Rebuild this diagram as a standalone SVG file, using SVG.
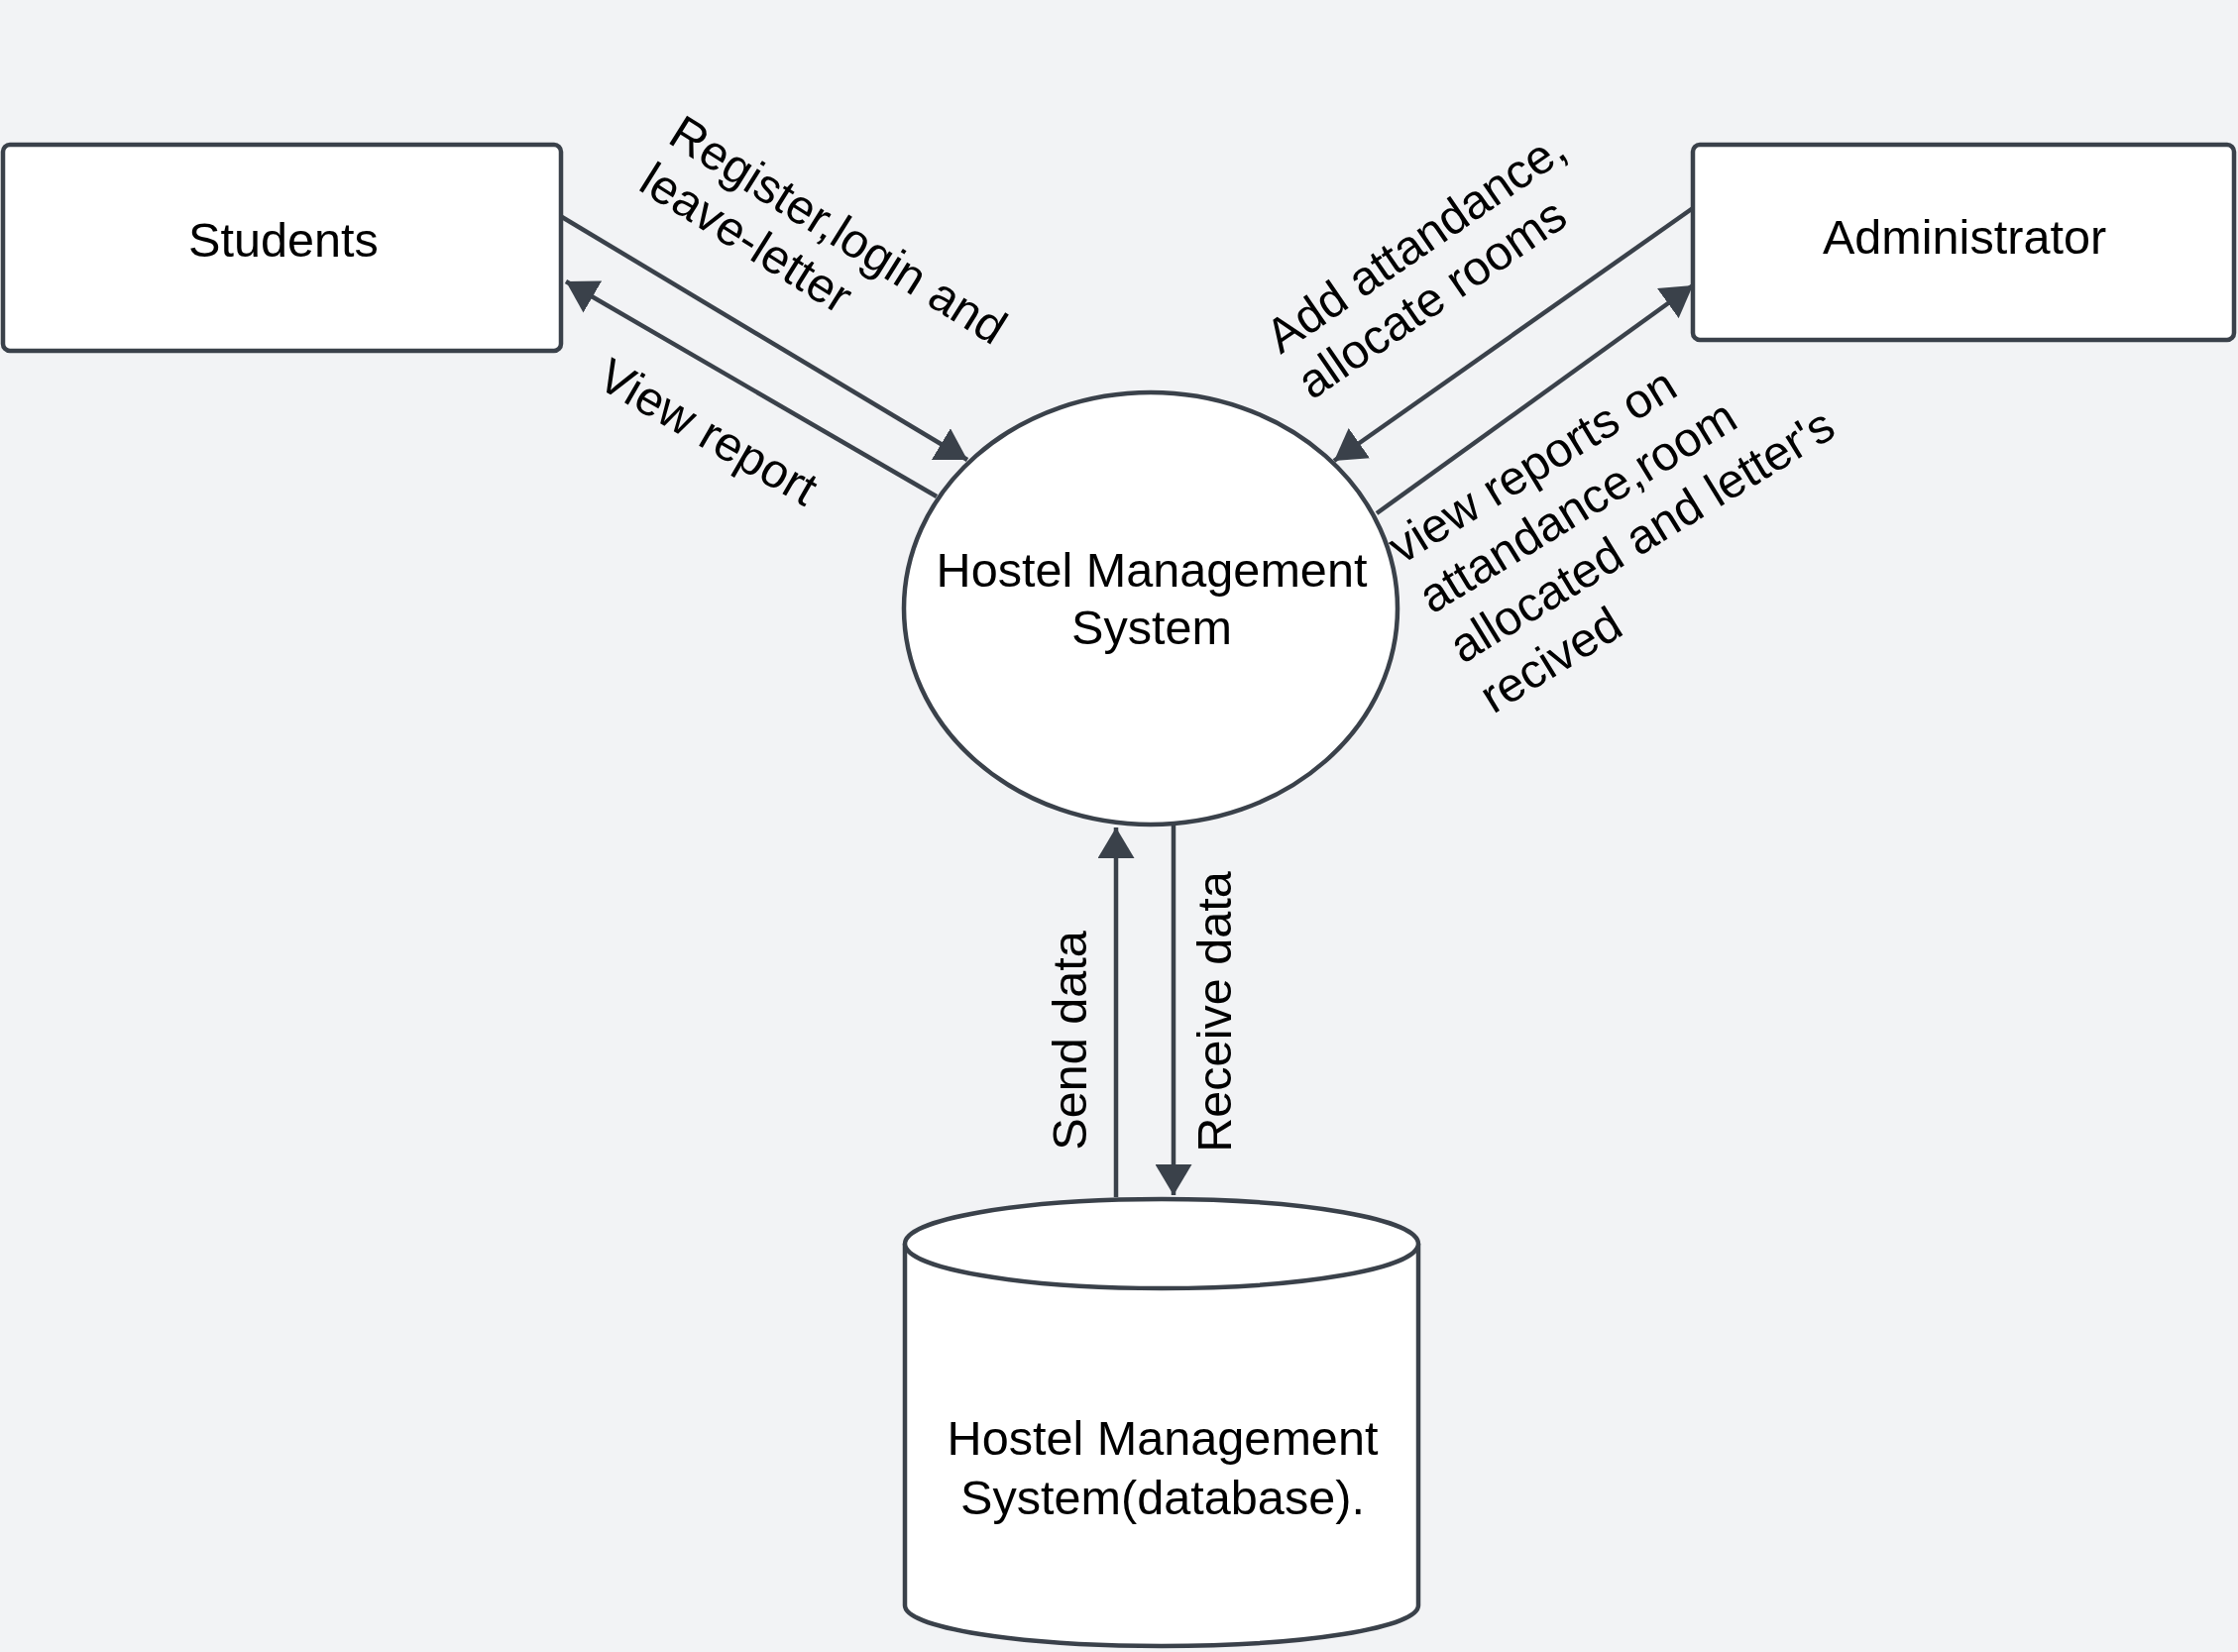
<svg xmlns="http://www.w3.org/2000/svg" width="2258" height="1667" viewBox="0 0 2258 1667">
<defs>
<style>
.shape{fill:#ffffff;stroke:#3a414a;stroke-width:4.5}
.conn{fill:none;stroke:#3a414a;stroke-width:4.5;marker-end:url(#arrow)}
.t{font-family:"Liberation Sans",Arial,sans-serif;font-size:48.6px;fill:#000000}
.c{text-anchor:middle}
</style>
<marker id="arrow" viewBox="0 0 31 37" refX="31" refY="18.5" markerWidth="31" markerHeight="37" markerUnits="userSpaceOnUse" orient="auto">
<path d="M0,0 L31,18.5 L0,37 Z" fill="#3a414a"/>
</marker>
</defs>
<rect width="2258" height="1667" fill="#f2f3f5"/>
<g id="connectors">
<line class="conn" x1="567" y1="219" x2="976" y2="464"/>
<line class="conn" x1="945" y1="501" x2="571" y2="284"/>
<line class="conn" x1="1708" y1="210" x2="1346" y2="465"/>
<line class="conn" x1="1389" y1="518" x2="1708" y2="288"/>
<line class="conn" x1="1126" y1="1208" x2="1126" y2="835"/>
<line class="conn" x1="1184" y1="833" x2="1184" y2="1206"/>
<text class="t" transform="translate(672,143) rotate(32)"><tspan x="0" y="0">Register,login and</tspan><tspan x="0" y="56">leave-letter</tspan></text>
<text class="t" transform="translate(600,389) rotate(30)">View report</text>
<text class="t" transform="translate(1292,358) rotate(-34.5)"><tspan x="0" y="0">Add attandance,</tspan><tspan x="0" y="56">allocate rooms</tspan></text>
<text class="t" transform="translate(1414,570) rotate(-31.5)"><tspan x="0" y="0">view reports on</tspan><tspan x="0" y="59">attandance,room</tspan><tspan x="0" y="118">allocated and letter's</tspan><tspan x="0" y="177">recived</tspan></text>
<text class="t c" transform="translate(1096,1050) rotate(-90)">Send data</text>
<text class="t c" transform="translate(1242,1021) rotate(-90)">Receive data</text>
</g>
<g id="students">
<rect class="shape" x="3" y="146" width="563" height="208" rx="7"/>
<text class="t c" x="286" y="259">Students</text>
</g>
<g id="administrator">
<rect class="shape" x="1708" y="146" width="546" height="197" rx="7"/>
<text class="t c" x="1982" y="256">Administrator</text>
</g>
<g id="hms">
<ellipse class="shape" cx="1161" cy="614" rx="249" ry="218"/>
<text class="t c" x="1162" y="592">Hostel Management</text>
<text class="t c" x="1162" y="650">System</text>
</g>
<g id="database">
<path class="shape" d="M913,1255 A259,45 0 0 1 1431,1255 L1431,1620 A259,41 0 0 1 913,1620 Z"/>
<path class="shape" d="M913,1255 A259,45 0 0 0 1431,1255" fill="none"/>
<text class="t c" x="1173" y="1468">Hostel Management</text>
<text class="t c" x="1173" y="1528">System(database).</text>
</g>
</svg>
